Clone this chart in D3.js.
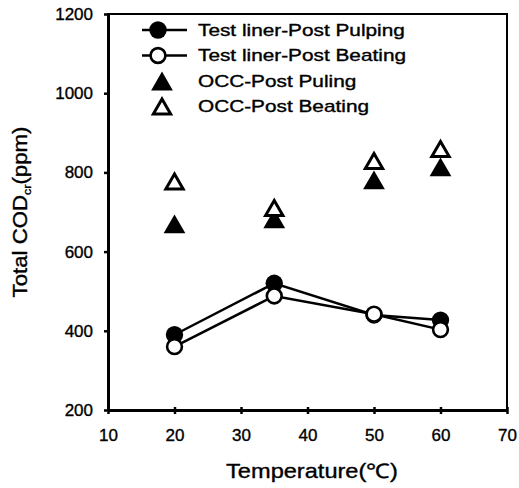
<!DOCTYPE html>
<html lang="en">
<head>
  <meta charset="UTF-8">
  <title>COD chart</title>
  <script src="https://cdn.jsdelivr.net/npm/d3@7"></script>
  <style>
    body { margin: 0; background: #fff; }
    text { font-family: "Liberation Sans", Arial, sans-serif; fill: #000; stroke: #000; stroke-width: 0.35px; }
  </style>
</head>
<body>
  <svg id="chart"></svg>
<script>
  const temps = [20, 35, 50, 60];
  const linerPulping = [390, 520, 440, 427];
  const linerBeating = [360, 488, 442, 403];
  const occPulping = [670, 683, 781, 814];
  const occBeating = [777, 710, 829, 859];
  const xTicks = [10, 20, 30, 40, 50, 60, 70];
  const yTicks = [200, 400, 600, 800, 1000, 1200];
  const legendLabels = ['Test liner-Post Pulping', 'Test liner-Post Beating', 'OCC-Post Puling', 'OCC-Post Beating'];

  const width = 519, height = 488;
  const margin = { top: 14, right: 12, bottom: 78, left: 108 };

  const svg = d3.select('#chart').attr('width', width).attr('height', height);

  const x = d3.scaleLinear().domain([10, 70]).range([margin.left, width - margin.right]);
  const y = d3.scaleLinear().domain([200, 1200]).range([height - margin.bottom, margin.top]);

  // the scanned figure has wide letters, so text is stretched a bit sideways
  function wideText(g, px, py, sx, size) {
    return g.append('text')
      .attr('transform', `translate(${px},${py}) scale(${sx},1)`)
      .attr('font-size', size);
  }

  // frame
  svg.append('rect')
    .attr('x', x(10)).attr('y', y(1200))
    .attr('width', x(70) - x(10)).attr('height', y(200) - y(1200))
    .attr('fill', 'none').attr('stroke', '#000').attr('stroke-width', 2);

  const xAxis = svg.append('g')
    .attr('transform', `translate(0,${y(200)})`)
    .call(d3.axisBottom(x).tickValues(xTicks).tickFormat(d3.format('d'))
      .tickSizeInner(4).tickSizeOuter(0).tickPadding(15));
  const yAxis = svg.append('g')
    .attr('transform', `translate(${x(10)},0)`)
    .call(d3.axisLeft(y).tickValues(yTicks).tickFormat(d3.format('d'))
      .tickSizeInner(4).tickSizeOuter(0).tickPadding(11));

  xAxis.selectAll('.tick line').attr('y1', -3);
  yAxis.selectAll('.tick line').attr('x1', 2);
  [xAxis, yAxis].forEach(g => {
    g.select('.domain').attr('stroke-width', 3);
    g.selectAll('.tick line').attr('stroke-width', 2.5);
    g.selectAll('.tick text').attr('font-size', 17)
      .attr('font-family', '"Liberation Sans", Arial, sans-serif');
  });

  wideText(svg, 312, 478, 1.18, 20)
    .attr('text-anchor', 'middle')
    .text('Temperature(℃)');

  const yTitle = svg.append('text')
    .attr('transform', `translate(27,212) rotate(-90) scale(1.14,1)`)
    .attr('text-anchor', 'middle').attr('font-size', 19.5);
  yTitle.append('tspan').text('Total COD');
  yTitle.append('tspan').attr('font-size', 11).attr('dy', 4).text('cr');
  yTitle.append('tspan').attr('dy', -4).text('(ppm)');

  const line = d3.line().x((d, i) => x(temps[i])).y(d => y(d));

  [linerPulping, linerBeating].forEach(s => {
    svg.append('path').datum(s)
      .attr('d', line).attr('fill', 'none')
      .attr('stroke', '#000').attr('stroke-width', 2.5);
  });

  // triangles are shifted so their box centre sits on the value
  const triShift = size => Math.sqrt(size / (3 * Math.sqrt(3))) / 2;
  const filledTri = 205, openTri = 130;

  svg.selectAll('.occp').data(occPulping).join('path')
    .attr('transform', (d, i) => `translate(${x(temps[i])},${y(d) + triShift(filledTri)})`)
    .attr('d', d3.symbol().type(d3.symbolTriangle).size(filledTri)).attr('fill', '#000');
  svg.selectAll('.occb').data(occBeating).join('path')
    .attr('transform', (d, i) => `translate(${x(temps[i])},${y(d) + triShift(openTri)})`)
    .attr('d', d3.symbol().type(d3.symbolTriangle).size(openTri))
    .attr('fill', '#fff').attr('stroke', '#000').attr('stroke-width', 3);

  svg.selectAll('.lp').data(linerPulping).join('circle')
    .attr('cx', (d, i) => x(temps[i])).attr('cy', d => y(d))
    .attr('r', 8.7).attr('fill', '#000');
  svg.selectAll('.lb').data(linerBeating).join('circle')
    .attr('cx', (d, i) => x(temps[i])).attr('cy', d => y(d))
    .attr('r', 7.4).attr('fill', '#fff').attr('stroke', '#000').attr('stroke-width', 2.6);

  // legend
  legendLabels.forEach((label, i) => {
    const ly = 30 + i * 25.5;
    const g = svg.append('g').attr('transform', `translate(158,${ly})`);
    if (i < 2) {
      g.append('line').attr('x1', -16).attr('x2', 29)
        .attr('stroke', '#000').attr('stroke-width', 2.5);
      g.append('circle').attr('r', i === 0 ? 8.7 : 7.4)
        .attr('fill', i === 0 ? '#000' : '#fff')
        .attr('stroke', '#000').attr('stroke-width', i === 0 ? 0 : 2.6);
    } else {
      const s = i === 2 ? filledTri : openTri;
      g.append('path')
        .attr('d', d3.symbol().type(d3.symbolTriangle).size(s))
        .attr('transform', `translate(4,${triShift(s)})`)
        .attr('fill', i === 2 ? '#000' : '#fff')
        .attr('stroke', i === 2 ? 'none' : '#000').attr('stroke-width', 3);
    }
    wideText(g, 40, 5.5, 1.3, 16).text(label);
  });
</script>
</body>
</html>
